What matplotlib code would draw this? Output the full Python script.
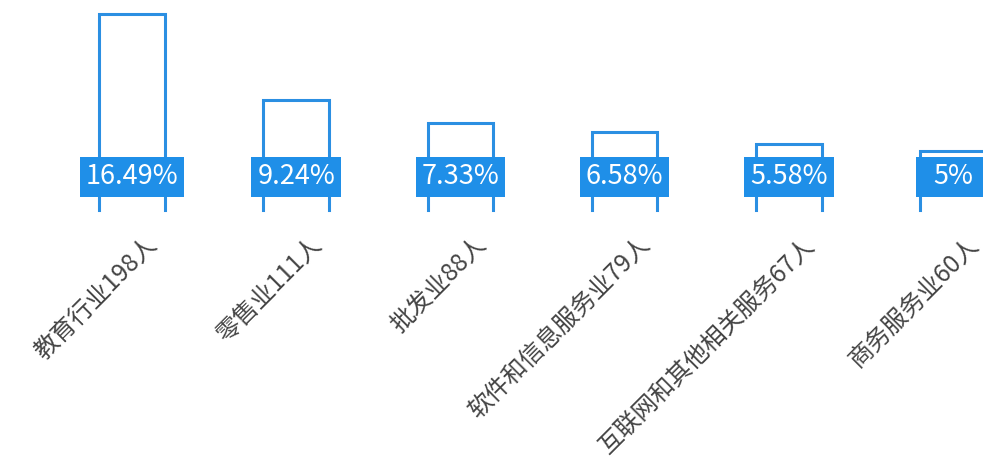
import matplotlib.pyplot as plt
from matplotlib.patches import Rectangle
from matplotlib.transforms import IdentityTransform

plt.rcParams['font.family'] = ['Noto Sans CJK SC', 'DejaVu Sans']

industries = ["教育行业198人", "零售业111人", "批发业88人",
              "软件和信息服务业79人", "互联网和其他相关服务67人", "商务服务业60人"]
counts = [198, 111, 88, 79, 67, 60]
shares = [16.49, 9.24, 7.33, 6.58, 5.58, 5]

line_blue = "#2b8fe2"
box_blue = "#1f8fe8"

fig = plt.figure(figsize=(9.83, 4.70), dpi=100)
# axes bottom sits on the bar baseline
ax = fig.add_axes([0, 260 / 470, 1, 210 / 470])
ax.set_xlim(-0.804, 5.183)
ax.set_ylim(0, 212.1)
ax.axis("off")

w = 0.40
for i, v in enumerate(counts):
    # outline bar without bottom edge
    ax.plot([i - w / 2, i - w / 2, i + w / 2, i + w / 2], [0, v, v, 0],
            color=line_blue, lw=2.2, solid_joinstyle="miter", clip_on=False)

fig.canvas.draw()
renderer = fig.canvas.get_renderer()
bar_px = w * ax.transData.get_matrix()[0, 0]

for i, s in enumerate(shares):
    t = ax.annotate(f"{s:g}%", xy=(i, 0), xytext=(0, 33 * 0.72),
                    textcoords="offset points", ha="center", va="center",
                    color="white", fontsize=19.5, zorder=5)
    bb = t.get_window_extent(renderer)
    bw = max(bb.width + 12, bar_px + 8)
    cx, cy = ax.transData.transform((i, 0))
    rect = Rectangle((cx - bw / 2, cy + 33 - 20), bw, 40,
                     transform=IdentityTransform(), clip_on=False,
                     facecolor=box_blue, edgecolor="none", zorder=4)
    ax.add_patch(rect)

for i, name in enumerate(industries):
    ax.annotate(name, xy=(i, 0), xytext=(9, -16), textcoords="offset points",
                rotation=45, rotation_mode="anchor", ha="right", va="top",
                color="#444444", fontsize=17.5, annotation_clip=False)

fig.savefig("out.png", dpi=100)
